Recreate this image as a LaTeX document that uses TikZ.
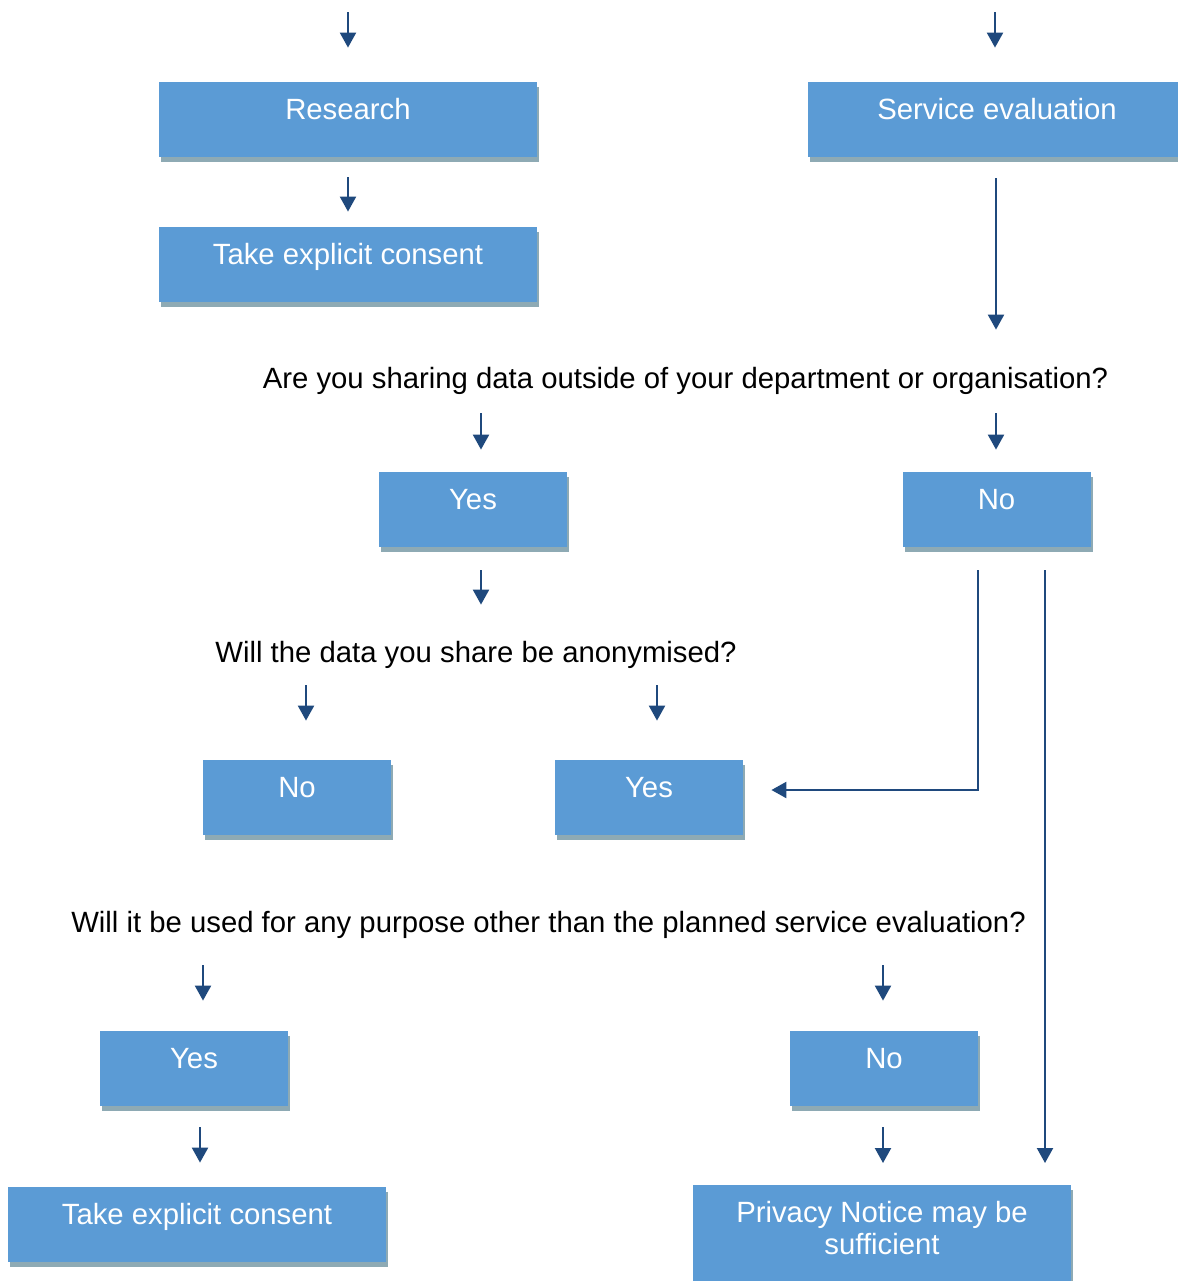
\documentclass[tikz,border=0pt]{standalone}
\usepackage{fontspec}
\setmainfont{Liberation Sans}
\usepackage{xcolor}
\usepackage{tikz}
\usetikzlibrary{arrows.meta,shadows}

\definecolor{boxblue}{HTML}{5B9BD5}
\definecolor{shadowgrey}{HTML}{8EAAB4}
\definecolor{arrowblue}{HTML}{1F497D}

\tikzset{
  box/.style={rectangle, fill=boxblue, text=white, inner sep=0pt,
    minimum height=37.5pt, text height=18.5pt, text depth=19pt,
    font=\fontsize{14.65}{16}\selectfont,
    drop shadow={shadow xshift=1pt, shadow yshift=-2.5pt, fill=shadowgrey, opacity=1}},
  wide/.style={minimum width=189pt},
  narrow/.style={minimum width=94pt},
  quest/.style={inner sep=0pt, anchor=base, text height=10.5pt, text depth=3pt,
    font=\fontsize{14.65}{16}\selectfont},
  arr/.style={draw=arrowblue, line width=1.1pt, -{Triangle[width=8pt,length=7.5pt]}}
}

\begin{document}
\begin{tikzpicture}[x=0.5pt, y=-0.5pt]
          \useasboundingbox (0,0) rectangle (1178,1281);

          % columns of the arrows
          \coordinate (topL) at (348,12);
          \coordinate (topR) at (995,12);
          \foreach \name/\x in {colA/481, colS/996, colB1/306, colB2/657, colN/978, colP/1045, colC1/203, colC2/883, colD/200}{%
            \coordinate (\name) at (\x,0);
          }

          \node[box, wide] (research) at (348,119.5) {Research};
          \node[box, wide] (consentA) at (348,264.5) {Take explicit consent};
          \node[box, wide] (service) at (997,119.5) {Service evaluation};

          \node[quest] (q1) at (685.5,388) {Are you sharing data outside of your department or organisation?};
          \node[box, narrow] (yesA) at (473,509.5) {Yes};
          \node[box, narrow] (noA) at (996.5,509.5) {No};

          \node[quest] (q2) at (476,662) {Will the data you share be anonymised?};
          \node[box, narrow] (noB) at (297,797.5) {No};
          \node[box, narrow] (yesB) at (649,797.5) {Yes};

          \node[quest] (q3) at (548.5,932) {Will it be used for any purpose other than the planned service evaluation?};
          \node[box, narrow] (yesC) at (194,1068.5) {Yes};
          \node[box, narrow] (noC) at (884,1068.5) {No};

          \node[box, wide] (consentB) at (197,1224.5) {Take explicit consent};
          \node[box, wide, anchor=north, align=center, text height=34.5pt, text depth=15.5pt] (privacy) at (882,1185) {Privacy Notice may be\\sufficient};

          \draw[arr, shorten >=17pt] (topL) -- (research);
          \draw[arr, shorten >=17pt] (topR) -- (topR |- service.north);
          \draw[arr, shorten <=10pt, shorten >=7.5pt] (research) -- (consentA);
          \draw[arr, shorten <=10.5pt, shorten >=18.5pt] (service.south -| colS) -- (q1.north -| colS);

          \draw[arr, shorten <=9.5pt, shorten >=11pt] (q1.south -| colA) -- (yesA.north -| colA);
          \draw[arr, shorten <=9.5pt, shorten >=11pt] (q1.south -| colS) -- (noA.north -| colS);
          \draw[arr, shorten <=11.5pt, shorten >=18pt] (yesA.south -| colA) -- (q2.north -| colA);

          \draw[arr, shorten <=8.5pt, shorten >=19.5pt] (q2.south -| colB1) -- (noB.north -| colB1);
          \draw[arr, shorten <=8.5pt, shorten >=19.5pt] (q2.south -| colB2) -- (yesB.north -| colB2);
          \draw[arr, shorten <=11.5pt, shorten >=14pt] (noA.south -| colN) |- ([yshift=3.75pt]yesB.east);
          \draw[arr, shorten <=11.5pt, shorten >=11pt] (noA.south -| colP) -- (privacy.north -| colP);

          \draw[arr, shorten <=13.5pt, shorten >=15pt] (q3.south -| colC1) -- (yesC.north -| colC1);
          \draw[arr, shorten <=13.5pt, shorten >=15pt] (q3.south -| colC2) -- (noC.north -| colC2);
          \draw[arr, shorten <=10.5pt, shorten >=12pt] (yesC.south -| colD) -- (consentB.north -| colD);
          \draw[arr, shorten <=10.5pt, shorten >=11pt] (noC.south -| colC2) -- (privacy.north -| colC2);
        \end{tikzpicture}
\end{document}
